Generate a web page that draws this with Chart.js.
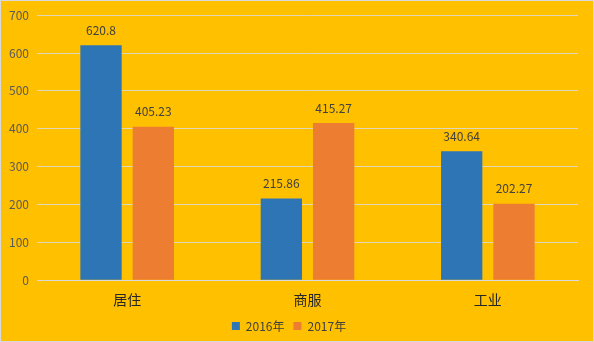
<!DOCTYPE html>
<html lang="zh">
<head>
<meta charset="UTF-8">
<script src="https://cdn.jsdelivr.net/npm/chart.js"></script>
<style>
  html, body { margin: 0; padding: 0; background: #FFC000; }
  #wrap { width: 594px; height: 342px; }
</style>
</head>
<body>
<div id="wrap"><canvas id="c"></canvas></div>
<script>
// 数据
const categories = ['居住', '商服', '工业'];
const series2016 = [620.8, 215.86, 340.64];
const series2017 = [405.23, 415.27, 202.27];
const labels2016 = ['620.8', '215.86', '340.64'];
const labels2017 = ['405.23', '415.27', '202.27'];
const seriesNames = ['2016年', '2017年'];

// 背景和边框
const bgPlugin = {
  id: 'bg',
  beforeDraw(chart) {
    const ctx = chart.ctx;
    ctx.save();
    ctx.fillStyle = '#FFC000';
    ctx.fillRect(0, 0, chart.width, chart.height);
    ctx.strokeStyle = '#D9D9D9';
    ctx.lineWidth = 1;
    ctx.strokeRect(0.5, 0.5, chart.width - 1, chart.height - 1);
    ctx.restore();
  }
};

// 柱子上的数值
const valuePlugin = {
  id: 'values',
  afterDatasetsDraw(chart) {
    const ctx = chart.ctx;
    const texts = [labels2016, labels2017];
    ctx.save();
    ctx.font = '12px "Noto Sans CJK SC", "DejaVu Sans", sans-serif';
    ctx.fillStyle = '#404040';
    ctx.textAlign = 'center';
    ctx.textBaseline = 'middle';
    chart.data.datasets.forEach((ds, i) => {
      chart.getDatasetMeta(i).data.forEach((bar, j) => {
        ctx.fillText(texts[i][j], bar.x, bar.y - 15);
      });
    });
    ctx.restore();
  }
};

new Chart(document.getElementById('c'), {
  type: 'bar',
  data: {
    labels: categories,
    datasets: [
      { label: seriesNames[0], data: series2016, backgroundColor: '#2E75B6' },
      { label: seriesNames[1], data: series2017, backgroundColor: '#ED7D31' }
    ]
  },
  options: {
    responsive: true,
    maintainAspectRatio: false,
    animation: false,
    datasets: { bar: { categoryPercentage: 0.58, barPercentage: 0.79 } },
    layout: { padding: { top: 8, right: 16, left: 0, bottom: 0 } },
    scales: {
      x: {
        grid: { display: false },
        border: { color: '#D9D9D9' },
        ticks: { color: '#262626', font: { size: 14, family: '"Noto Sans CJK SC", sans-serif' }, padding: 3 }
      },
      y: {
        min: 0, max: 700,
        ticks: { stepSize: 100, color: '#595959', font: { size: 12, family: '"Noto Sans CJK SC", sans-serif' }, padding: 8 },
        grid: { color: '#E0D6B8', drawTicks: false },
        border: { display: false },
        afterFit(scale) { scale.width = 37; }
      }
    },
    plugins: {
      legend: {
        position: 'bottom',
        labels: {
          boxWidth: 8, boxHeight: 8, padding: 9,
          color: '#404040',
          font: { size: 12, family: '"Noto Sans CJK SC", sans-serif' }
        }
      },
      tooltip: { enabled: false }
    }
  },
  plugins: [bgPlugin, valuePlugin]
});
</script>
</body>
</html>
